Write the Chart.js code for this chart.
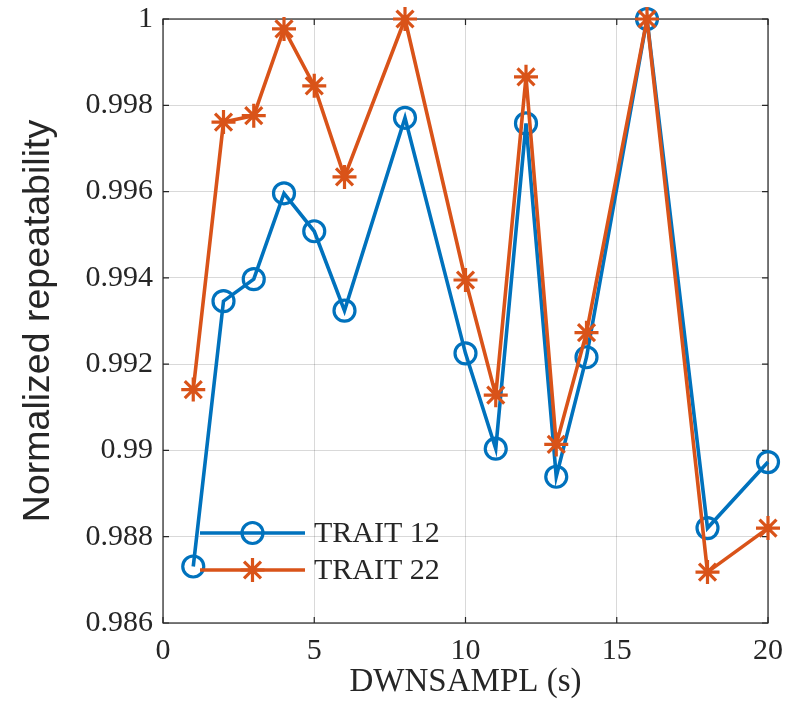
<!DOCTYPE html>
<html>
<head>
<meta charset="utf-8">
<script src="https://cdn.jsdelivr.net/npm/chart.js@4.4.0/dist/chart.umd.min.js"></script>
<style>
  html, body { margin: 0; padding: 0; background: #fff; }
</style>
</head>
<body>
<canvas id="c" width="802" height="708"></canvas>
<script>
// data
const xVals   = [1, 2, 3, 4, 5, 6, 8, 10, 11, 12, 13, 14, 16, 18, 20];
const trait12 = [0.98731, 0.99346, 0.99397, 0.99596, 0.99508, 0.99324, 0.99771, 0.99225,
                 0.99004, 0.99758, 0.98939, 0.99216, 1.0, 0.98820, 0.98973];
const trait22 = [0.99141, 0.99761, 0.99776, 0.99977, 0.99845, 0.99634, 1.0, 0.99395,
                 0.99128, 0.99866, 0.99014, 0.99273, 1.0, 0.98718, 0.98820];
const xTicks = [0, 5, 10, 15, 20];
const yTicks = [0.986, 0.988, 0.99, 0.992, 0.994, 0.996, 0.998, 1];
const seriesNames = ['TRAIT 12', 'TRAIT 22'];

const BLUE = '#0072BD';
const ORANGE = '#D95319';
const AXIS = '#262626';
const serif = "'Liberation Serif', 'Times New Roman', serif";
const sans = "'Liberation Sans', Arial, sans-serif";

function toPts(ys) {
  return xVals.map((x, i) => ({ x: x, y: ys[i] }));
}

function drawMarker(ctx, style, x, y, r, color) {
  ctx.save();
  ctx.strokeStyle = color;
  ctx.lineWidth = 3.2;
  ctx.beginPath();
  if (style === 'circle') {
    ctx.arc(x, y, r, 0, Math.PI * 2);
  } else {
    for (let k = 0; k < 4; k++) {
      const a = k * Math.PI / 4;
      ctx.moveTo(x - r * Math.cos(a), y - r * Math.sin(a));
      ctx.lineTo(x + r * Math.cos(a), y + r * Math.sin(a));
    }
  }
  ctx.stroke();
  ctx.restore();
}

// box around the axes with inward ticks, like matlab
const boxPlugin = {
  id: 'box',
  beforeDatasetsDraw(chart) {
    const ctx = chart.ctx, a = chart.chartArea;
    const xs = chart.scales.x, ys = chart.scales.y;
    const len = 6;
    ctx.save();
    ctx.strokeStyle = AXIS;
    ctx.lineWidth = 1.2;
    ctx.strokeRect(a.left, a.top, a.right - a.left, a.bottom - a.top);
    ctx.beginPath();
    xTicks.forEach(v => {
      const px = xs.getPixelForValue(v);
      ctx.moveTo(px, a.bottom); ctx.lineTo(px, a.bottom - len);
      ctx.moveTo(px, a.top); ctx.lineTo(px, a.top + len);
    });
    yTicks.forEach(v => {
      const py = ys.getPixelForValue(v);
      ctx.moveTo(a.left, py); ctx.lineTo(a.left + len, py);
      ctx.moveTo(a.right, py); ctx.lineTo(a.right - len, py);
    });
    ctx.stroke();
    ctx.restore();
  }
};

const legendPlugin = {
  id: 'matLegend',
  afterDatasetsDraw(chart) {
    const ctx = chart.ctx, a = chart.chartArea;
    const x0 = a.left + 37, x1 = a.left + 142, xm = (x0 + x1) / 2, tx = a.left + 151;
    const rows = [
      { label: seriesNames[0], color: BLUE, style: 'circle', r: 10.5, y: a.top + 514 },
      { label: seriesNames[1], color: ORANGE, style: 'star', r: 12, y: a.top + 551 }
    ];
    rows.forEach(row => {
      ctx.save();
      ctx.strokeStyle = row.color;
      ctx.lineWidth = 3.6;
      ctx.beginPath();
      ctx.moveTo(x0, row.y);
      ctx.lineTo(x1, row.y);
      ctx.stroke();
      ctx.restore();
      drawMarker(ctx, row.style, xm, row.y, row.r, row.color);
      ctx.save();
      ctx.fillStyle = AXIS;
      ctx.font = '30px ' + serif;
      ctx.textBaseline = 'middle';
      ctx.fillText(row.label, tx, row.y + 1);
      ctx.restore();
    });
  }
};

new Chart(document.getElementById('c').getContext('2d'), {
  type: 'line',
  data: {
    datasets: [
      {
        label: seriesNames[0],
        data: toPts(trait12),
        borderColor: BLUE,
        borderWidth: 3.6,
        pointStyle: 'circle',
        pointRadius: 10.5,
        pointBorderWidth: 3.2,
        pointBorderColor: BLUE,
        pointBackgroundColor: 'rgba(0,0,0,0)',
        tension: 0,
        clip: false,
        order: 2
      },
      {
        label: seriesNames[1],
        data: toPts(trait22),
        borderColor: ORANGE,
        borderWidth: 3.6,
        pointStyle: 'star',
        pointRadius: 12,
        pointBorderWidth: 3.2,
        pointBorderColor: ORANGE,
        pointBackgroundColor: ORANGE,
        tension: 0,
        clip: false,
        order: 1
      }
    ]
  },
  options: {
    responsive: false,
    animation: false,
    layout: { padding: { top: 19, right: 34, left: 0, bottom: 0 } },
    plugins: { legend: { display: false }, tooltip: { enabled: false } },
    scales: {
      x: {
        type: 'linear',
        min: 0, max: 20,
        afterBuildTicks: s => { s.ticks = xTicks.map(v => ({ value: v })); },
        afterFit: s => { s.height = 85; s.paddingLeft = 0; s.paddingRight = 0; },
        grid: { color: 'rgba(0,0,0,0.15)', lineWidth: 1, drawTicks: false },
        border: { display: false },
        ticks: { color: AXIS, font: { family: serif, size: 30 }, padding: 10, maxRotation: 0 },
        title: {
          display: true, text: 'DWNSAMPL (s)', color: AXIS,
          font: { family: serif, size: 33, lineHeight: 1.55 }, padding: 0
        }
      },
      y: {
        type: 'linear',
        min: 0.986, max: 1,
        afterBuildTicks: s => { s.ticks = yTicks.map(v => ({ value: v })); },
        afterFit: s => { s.width = 163; s.paddingTop = 0; s.paddingBottom = 0; },
        grid: { color: 'rgba(0,0,0,0.15)', lineWidth: 1, drawTicks: false },
        border: { display: false },
        ticks: {
          color: AXIS, font: { family: serif, size: 30 }, padding: 10,
          callback: v => String(Number(v.toFixed(3)))
        },
        title: {
          display: true, text: 'Normalized repeatability', color: AXIS,
          font: { family: sans, size: 37.5, lineHeight: 2.08 }, padding: 0
        }
      }
    }
  },
  plugins: [boxPlugin, legendPlugin]
});
</script>
</body>
</html>
